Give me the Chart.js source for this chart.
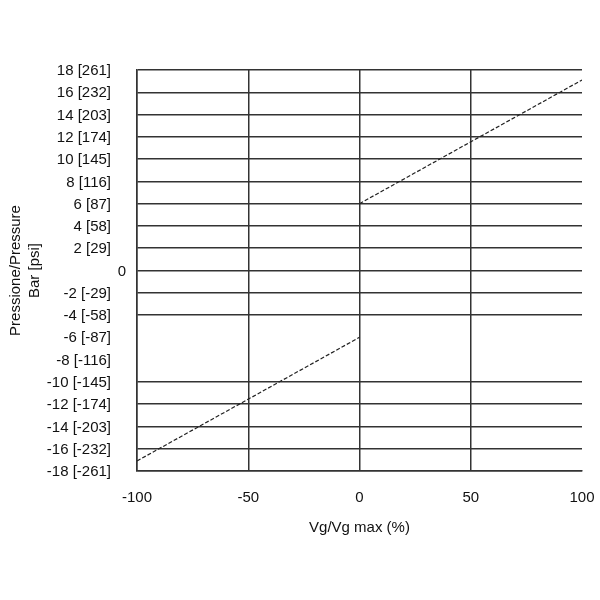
<!DOCTYPE html>
<html>
<head>
<meta charset="utf-8">
<script src="https://cdn.jsdelivr.net/npm/chart.js@4/dist/chart.umd.min.js"></script>
<style>
  html, body { margin: 0; padding: 0; background: #fff; }
  #wrap { width: 600px; height: 600px; }
</style>
</head>
<body>
<div id="wrap"><canvas id="myChart"></canvas></div>
<script>
// values
const xTicks = [-100, -50, 0, 50, 100]
const yTicks = [18, 16, 14, 12, 10, 8, 6, 4, 2, 0, -2, -4, -6, -8, -10, -12, -14, -16, -18]
const yLabels = ['18 [261]', '16 [232]', '14 [203]', '12 [174]', '10 [145]', '8 [116]', '6 [87]', '4 [58]', '2 [29]', '0',
    '-2 [-29]', '-4 [-58]', '-6 [-87]', '-8 [-116]', '-10 [-145]', '-12 [-174]', '-14 [-203]', '-16 [-232]', '-18 [-261]']
const noGridY = [-6, -8]
const noGridX = [100]

const lowX = [-100, 0]
const lowY = [-17.1, -6]
const highX = [0, 100]
const highY = [6, 17.1]

const font = '"Liberation Sans Narrow", "Arial Narrow", "Liberation Sans", sans-serif'

// y labels drawn by hand so the "0" can sit further right like in the original
const yLabelPlugin = {
    id: 'yLabels',
    afterDraw(chart) {
        const c = chart.ctx
        const y = chart.scales.y
        c.save()
        c.font = '15px ' + font
        c.fillStyle = '#111'
        c.textBaseline = 'middle'
        c.textAlign = 'right'
        yTicks.forEach((v, i) => {
            let px = v === 0 ? 126 : 111
            c.fillText(yLabels[i], px, y.getPixelForValue(v) + 1)
        })
        c.restore()
    }
}

const ctx = document.getElementById('myChart')

new Chart(ctx, {
    type: 'line',
    data: {
        datasets: [{
            data: lowX.map((x, i) => ({ x: x, y: lowY[i] })),
            borderColor: '#222',
            borderWidth: 1.2,
            borderDash: [4, 2],
            pointRadius: 0,
        }, {
            data: highX.map((x, i) => ({ x: x, y: highY[i] })),
            borderColor: '#222',
            borderWidth: 1.2,
            borderDash: [4, 2],
            pointRadius: 0,
        }]
    },
    options: {
        responsive: true,
        maintainAspectRatio: false,
        animation: false,
        layout: { padding: { top: 70, right: 18, bottom: 57, left: 0 } },
        plugins: { legend: { display: false }, tooltip: { enabled: false } },
        scales: {
            x: {
                type: 'linear',
                min: -100,
                max: 100,
                afterBuildTicks: s => { s.ticks = xTicks.map(v => ({ value: v })) },
                afterFit: s => {
                    s.height = 72
                    s.paddingLeft = 0
                    s.paddingRight = 0
                },
                grid: {
                    color: c => noGridX.includes(c.tick.value) ? 'rgba(0,0,0,0)' : '#333',
                    lineWidth: 1.5,
                    drawTicks: false,
                },
                border: { color: '#333', width: 1.5 },
                ticks: { color: '#111', font: { family: font, size: 15 }, padding: 18, maxRotation: 0 },
                title: {
                    display: true,
                    text: 'Vg/Vg max (%)',
                    color: '#111',
                    font: { family: font, size: 15 },
                    padding: { top: 0, bottom: 6 },
                },
            },
            y: {
                type: 'linear',
                min: -18,
                max: 18,
                afterBuildTicks: s => { s.ticks = yTicks.map(v => ({ value: v })) },
                afterFit: s => { s.width = 137 },
                grid: {
                    color: c => noGridY.includes(c.tick.value) ? 'rgba(0,0,0,0)' : '#333',
                    lineWidth: 1.5,
                    drawTicks: false,
                },
                border: { color: '#333', width: 1.5 },
                ticks: { display: false },
                title: {
                    display: true,
                    text: ['Pressione/Pressure', 'Bar [psi]'],
                    color: '#111',
                    font: { family: font, size: 15, lineHeight: 1.3 },
                    padding: { top: 6, bottom: 0 },
                },
            },
        },
    },
    plugins: [yLabelPlugin],
})
</script>
</body>
</html>
